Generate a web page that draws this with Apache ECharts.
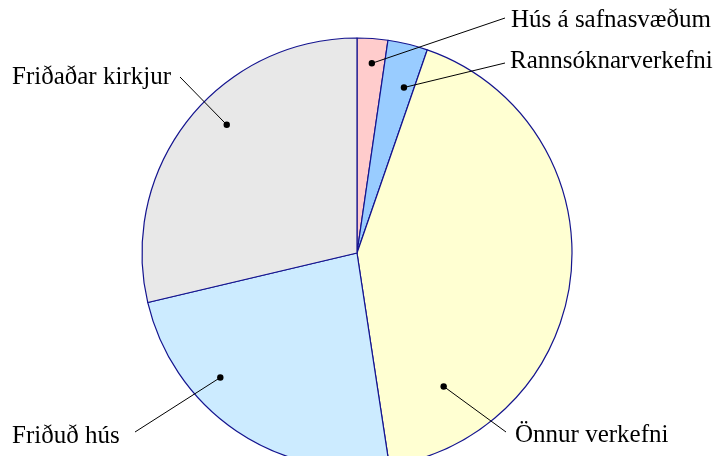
<!DOCTYPE html>
<html>
<head>
<meta charset="utf-8">
<script src="https://cdn.jsdelivr.net/npm/echarts@6/dist/echarts.min.js"></script>
<style>
html,body{margin:0;padding:0;background:#fff;}
#chart{width:724px;height:456px;}
</style>
</head>
<body>
<div id="chart"></div>
<script>
// ---- data ----
const categories = ['Hús á safnasvæðum', 'Rannsóknarverkefni', 'Önnur verkefni', 'Friðuð hús', 'Friðaðar kirkjur'];
const values = [2.3, 3.0, 42.3, 23.7, 28.7];
const colors = ['#FFCCCC', '#99CCFF', '#FFFFD2', '#CCEBFF', '#E8E8E8'];

// ---- layout (styles / positions only) ----
const CX = 357, CY = 253, R = 215;
// where inside each slice the leader line starts: fraction of sweep, fraction of radius
const dotSpot = [[0.54, 0.885], [0.70, 0.80], [0.84, 0.74], [0.66, 0.86], [0.56, 0.85]];
// end point of each leader line and left/middle anchor of its text
const lineEnd = [[505, 18], [505, 63], [506, 432], [135, 432], [180, 77]];
const textAt = [[511, 20], [510, 61], [515, 435], [12, 436], [12, 77]];

const total = values.reduce((a, b) => a + b, 0);
const dots = [];
let acc = 0;
values.forEach((v, i) => {
  const sweep = v / total * 360;
  const a = (acc + sweep * dotSpot[i][0]) * Math.PI / 180;
  const r = R * dotSpot[i][1];
  dots.push([CX + r * Math.sin(a), CY - r * Math.cos(a)]);
  acc += sweep;
});

const chart = echarts.init(document.getElementById('chart'), null, {renderer: 'canvas'});
chart.setOption({
  animation: false,
  backgroundColor: '#fff',
  series: [{
    type: 'pie',
    center: [CX, CY],
    radius: [0, R],
    startAngle: 90,
    clockwise: true,
    avoidLabelOverlap: false,
    silent: true,
    data: categories.map((c, i) => ({name: c, value: values[i], itemStyle: {color: colors[i]}})),
    itemStyle: {borderColor: '#14148f', borderWidth: 1.2},
    label: {
      show: true,
      position: 'outside',
      formatter: '{b}',
      fontFamily: 'Liberation Serif',
      fontSize: 25,
      color: '#000'
    },
    labelLine: {show: false},
    labelLayout: function (p) {
      const i = p.dataIndex;
      return {
        x: textAt[i][0],
        y: textAt[i][1],
        align: 'left',
        verticalAlign: 'middle'
      };
    }
  }],
  graphic: dots.map((d, i) => ({
    type: 'polyline',
    shape: {points: [d, lineEnd[i]]},
    style: {stroke: '#000', lineWidth: 1, fill: null},
    z: 100
  })).concat(dots.map(d => ({
    type: 'circle',
    shape: {cx: d[0], cy: d[1], r: 3.2},
    style: {fill: '#000'},
    z: 101
  })))
});
</script>
</body>
</html>
